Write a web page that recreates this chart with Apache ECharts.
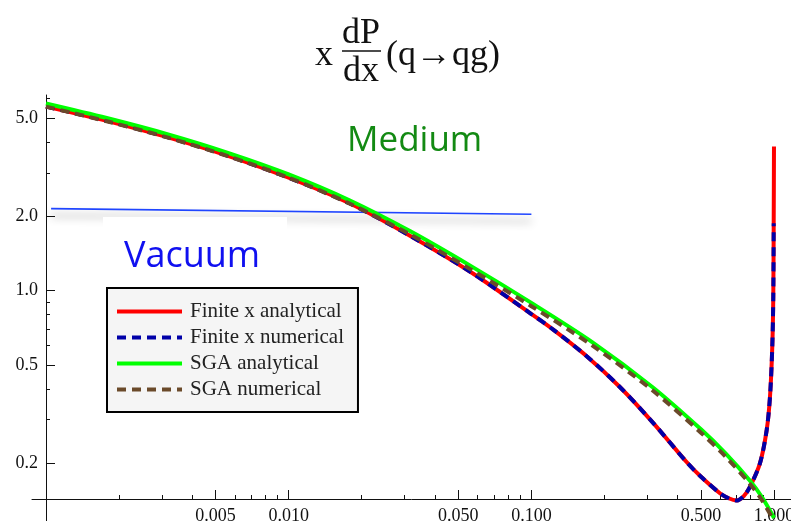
<!DOCTYPE html>
<html>
<head>
<meta charset="utf-8">
<title>x dP/dx (q→qg)</title>
<script src="https://cdn.jsdelivr.net/npm/echarts@6/dist/echarts.min.js"></script>
<style>
  html, body { margin: 0; padding: 0; background: #fff; }
  #chart { width: 791px; height: 521px; }
</style>
</head>
<body>
<div id="chart"></div>
<script>
'use strict';

// tick values (log axes)
const xMajorTicks = [0.005, 0.01, 0.05, 0.1, 0.5, 1];
const xMinorTicks = [0.002, 0.003, 0.004, 0.006, 0.007, 0.008, 0.009,
  0.02, 0.03, 0.04, 0.06, 0.07, 0.08, 0.09,
  0.2, 0.3, 0.4, 0.6, 0.7, 0.8, 0.9];
const yMajorTicks = [0.2, 0.5, 1, 2, 5];
const yMinorTicks = [0.3, 0.4, 0.6, 0.7, 0.8, 0.9, 3, 4, 6];

const legendNames = ['Finite x analytical', 'Finite x numerical', 'SGA analytical', 'SGA numerical'];

// [x, x dP/dx]
const finiteAnalytical = [
  [0.001, 5.58], [0.00178, 4.88], [0.00316, 4.19], [0.00562, 3.52], [0.01, 2.87],
  [0.0178, 2.26], [0.0316, 1.67], [0.0562, 1.19], [0.1, 0.804], [0.123, 0.695],
  [0.169, 0.5425], [0.232, 0.406], [0.318, 0.2905], [0.436, 0.202], [0.5, 0.176],
  [0.598, 0.151], [0.65, 0.144], [0.70, 0.141], [0.75, 0.147], [0.796, 0.1605],
  [0.875, 0.200], [0.932, 0.272], [0.962, 0.372], [0.983, 0.593], [0.9924, 0.946],
  [0.9963, 1.876], [0.999, 3.84]
];
const finiteNumerical = [
  [0.001, 5.58], [0.00178, 4.88], [0.00316, 4.19], [0.00562, 3.52], [0.01, 2.87],
  [0.0178, 2.26], [0.0316, 1.67], [0.0562, 1.19], [0.1, 0.804], [0.123, 0.695],
  [0.169, 0.5425], [0.232, 0.406], [0.318, 0.2905], [0.436, 0.202], [0.5, 0.176],
  [0.598, 0.151], [0.65, 0.144], [0.70, 0.141], [0.75, 0.147], [0.796, 0.1605],
  [0.875, 0.200], [0.932, 0.272], [0.962, 0.372], [0.983, 0.593], [0.9924, 0.946],
  [0.9963, 1.876]
];
const sgaAnalytical = [
  [0.001, 5.74], [0.00178, 5.01], [0.00316, 4.31], [0.00562, 3.62], [0.01, 2.96],
  [0.0178, 2.325], [0.0316, 1.744], [0.0562, 1.26], [0.1, 0.892], [0.178, 0.619],
  [0.316, 0.406], [0.501, 0.2735], [0.631, 0.219], [0.794, 0.170], [0.891, 0.1457],
  [1.0, 0.1198]
];
const sgaNumerical = [
  [0.001, 5.57], [0.00178, 4.86], [0.00316, 4.18], [0.00562, 3.51], [0.01, 2.87],
  [0.0178, 2.255], [0.0316, 1.69], [0.0562, 1.22], [0.1, 0.865], [0.178, 0.60],
  [0.316, 0.394], [0.501, 0.265], [0.631, 0.2125], [0.794, 0.165], [0.891, 0.1415],
  [1.0, 0.1165]
];
const vacuumLine = [[0.00105, 2.15], [0.1, 2.04]];

const serifFont = '"Liberation Serif", "Times New Roman", serif';

function makeAxis(dim, major, minor) {
  const isX = dim === 'x';
  const common = {
    type: 'log',
    logBase: 10,
    min: isX ? 0.000876 : 0.1165,
    max: isX ? 1.174 : 6.21,
    position: isX ? 'bottom' : 'left',
    offset: isX ? -22 : -14,
    splitLine: { show: false },
    minorTick: { show: false },
  };
  return [
    Object.assign({}, common, {
      axisLine: { show: true, lineStyle: { color: '#111', width: 1 } },
      axisTick: { show: true, inside: true, length: 9, customValues: major,
        lineStyle: { color: '#111', width: 1 } },
      axisLabel: {
        show: true,
        customValues: major,
        margin: 8,
        color: '#111',
        fontFamily: serifFont,
        fontSize: 18,
        formatter: v => isX ? Number(v).toFixed(3) : Number(v).toFixed(1)
      }
    }),
    Object.assign({}, common, {
      axisLine: { show: false },
      axisTick: { show: true, inside: true, length: 4, customValues: minor,
        lineStyle: { color: '#111', width: 1 } },
      axisLabel: { show: false }
    })
  ];
}

function lineSeries(name, data, color, dashed, z) {
  return {
    name: name,
    type: 'line',
    data: data,
    symbol: 'none',
    smooth: 0.3,
    clip: false,
    z: z,
    animation: false,
    emphasis: { disabled: true },
    itemStyle: { color: color },
    lineStyle: { color: color, width: 4, type: dashed ? [9, 6] : 'solid', cap: 'butt' }
  };
}

const chart = echarts.init(document.getElementById('chart'), null, { renderer: 'canvas' });

const option = {
  animation: false,
  backgroundColor: '#fff',
  grid: { left: 32, right: 0, top: 95, bottom: 0, containLabel: false, outerBoundsMode: 'none' },
  xAxis: makeAxis('x', xMajorTicks, xMinorTicks),
  yAxis: makeAxis('y', yMajorTicks, yMinorTicks),
  legend: {
    data: legendNames,
    orient: 'vertical',
    left: 107,
    top: 288,
    padding: [13, 14, 12, 8],
    itemGap: 5,
    itemWidth: 65,
    itemHeight: 14,
    backgroundColor: '#f5f5f5',
    borderColor: '#000',
    borderWidth: 2,
    borderRadius: 0,
    selectedMode: false,
    itemStyle: { opacity: 0 },
    lineStyle: { width: 4 },
    textStyle: { fontFamily: serifFont, fontSize: 21, color: '#222', padding: [0, 0, 0, 3] }
  },
  series: [
    lineSeries(legendNames[0], finiteAnalytical, '#ff0000', false, 3),
    lineSeries(legendNames[1], finiteNumerical, '#0000a8', true, 4),
    lineSeries(legendNames[2], sgaAnalytical, '#00ff00', false, 5),
    lineSeries(legendNames[3], sgaNumerical, '#6b4a2a', true, 6),
    {
      name: 'Vacuum',
      type: 'line',
      data: vacuumLine,
      symbol: 'none',
      z: 2,
      emphasis: { disabled: true },
      lineStyle: {
        color: '#1f45ff', width: 1.6,
        shadowColor: 'rgba(0,0,0,0.45)', shadowBlur: 9, shadowOffsetY: 7
      }
    }
  ],
  graphic: [
    // white label box over the vacuum line shading
    { type: 'rect', z: 10, shape: { x: 103, y: 217, width: 184, height: 68 }, style: { fill: '#fff' } },
    { type: 'text', z: 11, x: 124, y: 257,
      style: { text: 'Vacuum', font: '36px "Open Sans", "Noto Sans", sans-serif', fill: '#1010f0',
        align: 'left', verticalAlign: 'middle' } },
    { type: 'text', z: 11, x: 347, y: 141,
      style: { text: 'Medium', font: '35px "Open Sans", "Noto Sans", sans-serif', fill: '#138a13',
        align: 'left', verticalAlign: 'middle' } },
    // title: x dP/dx (q→qg)
    { type: 'text', z: 11, x: 315, y: 56,
      style: { text: 'x', font: '36px ' + serifFont, fill: '#111', align: 'left', verticalAlign: 'middle' } },
    { type: 'text', z: 11, x: 342, y: 34,
      style: { text: 'dP', font: '36px ' + serifFont, fill: '#111', align: 'left', verticalAlign: 'middle' } },
    { type: 'line', z: 11, shape: { x1: 342, y1: 51, x2: 381, y2: 51 }, style: { stroke: '#111', lineWidth: 1.5 } },
    { type: 'text', z: 11, x: 343, y: 72,
      style: { text: 'dx', font: '36px ' + serifFont, fill: '#111', align: 'left', verticalAlign: 'middle' } },
    { type: 'text', z: 11, x: 386, y: 56,
      style: { text: '(q→qg)', font: '36px ' + serifFont, fill: '#111', align: 'left', verticalAlign: 'middle' } }
  ]
};

chart.setOption(option);
</script>
</body>
</html>
